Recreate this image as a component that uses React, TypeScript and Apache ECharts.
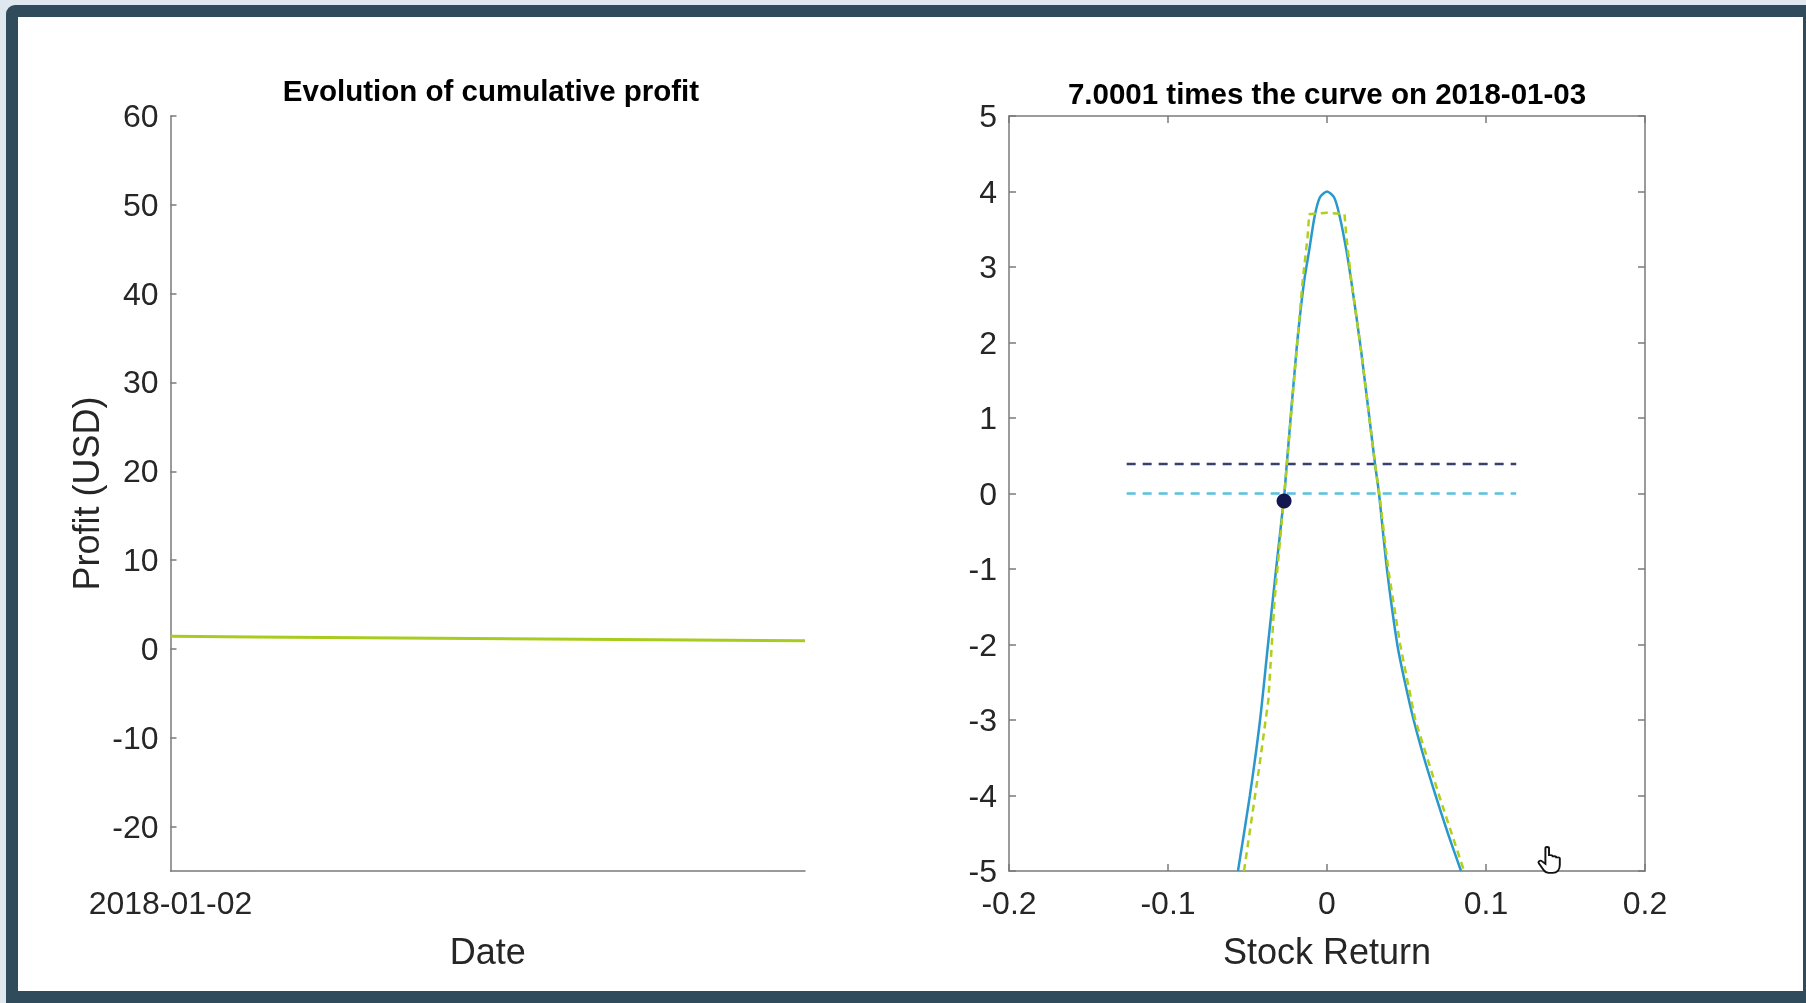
import React, { useEffect, useRef } from "react";
import * as echarts from "echarts";

// ---- data ----
const dates = ["2018-01-02", "2018-01-03"];
const profit = [1.42, 0.93];
const leftYTicks = [-20, -10, 0, 10, 20, 30, 40, 50, 60];

const curveX = [-0.056, -0.0485, -0.0421, -0.0371, -0.032, -0.0268, -0.0253, -0.0192, -0.0146, -0.0112, -0.0078, -0.0045, 0.0, 0.0045, 0.008, 0.0122, 0.0155, 0.0214, 0.0302, 0.0327, 0.0377, 0.0442, 0.049, 0.0545, 0.061, 0.0683, 0.076, 0.0843];
const curveY = [-5, -4, -3, -2, -1, 0, 0.39, 1.9, 2.78, 3.22, 3.67, 3.92, 4.0, 3.92, 3.67, 3.22, 2.78, 1.9, 0.39, 0, -1, -2, -2.5, -3, -3.5, -4, -4.5, -5];

const fitX = [-0.0522, -0.0426, -0.0369, -0.033, -0.0268, -0.0191, -0.0155, -0.0122, -0.0112, 0.0, 0.011, 0.0122, 0.0155, 0.0214, 0.0302, 0.0329, 0.0385, 0.046, 0.0555, 0.0705, 0.0862];
const fitY = [-5, -3.62, -2.74, -1.41, 0, 1.9, 2.78, 3.4, 3.7, 3.72, 3.7, 3.4, 2.78, 1.9, 0.39, 0, -1, -2, -3, -4, -5];

const levelX = [-0.126, 0.119];
const upperLevel = 0.39;
const zeroLevel = 0;
const markerX = -0.027;
const markerY = -0.1;

const handPath =
  "M7 2 C7 0.5 10 0.5 10 2 L10 9 C10 7.8 13 7.8 13 9 L13 10 C13 8.8 16 8.8 16 10 L16 11 C16 9.8 19 9.8 19 11 L19 17 C19 21 17 24 13 24 L10 24 C8 24 6.5 23 5.5 21.5 L1.5 15.5 C0.5 14 2.5 12.3 4 13.5 L7 16 Z";

const TICK_FONT = "'Liberation Sans', Arial, sans-serif";
const TXT = "#262626";
const AXIS = "#7a7a7a";

export default function App() {
  const ref = useRef<HTMLDivElement>(null);
  useEffect(() => {
    if (!ref.current) return;
    try {
      echarts.graphic.registerShape("handcursor", echarts.graphic.extendPath(handPath as any, {}) as any);
    } catch (e) {}
    const chart = echarts.init(ref.current, null, { renderer: "svg" });
    const axisLabel = { color: TXT, fontSize: 32, fontFamily: TICK_FONT };
    const nameStyle = { color: TXT, fontSize: 36, fontFamily: TICK_FONT };
    const lineStyle = { color: AXIS, width: 1.5 };
    const titleStyle = { fontSize: 29.5, fontWeight: "bold", fontFamily: TICK_FONT, fill: "#000", align: "center", verticalAlign: "middle" };
    const option: any = {
      animation: false,
      backgroundColor: "transparent",
      graphic: [
        { type: "rect", z: -10, silent: true, shape: { x: 0, y: 0, width: 1806, height: 1003 }, style: { fill: "#dfe7ef" } },
        { type: "rect", z: -9, silent: true, shape: { x: 6, y: 5, width: 1800, height: 998, r: [9, 0, 0, 0] }, style: { fill: "#2f4b5c" } },
        { type: "rect", z: -8, silent: true, shape: { x: 18, y: 17, width: 1785, height: 974 }, style: { fill: "#ffffff" } },
        { type: "text", z: 10, x: 491, y: 90, style: { ...titleStyle, text: "Evolution of cumulative profit" } },
        { type: "text", z: 10, x: 1327, y: 93, style: { ...titleStyle, text: "7.0001 times the curve on 2018-01-03" } },
        {
          type: "handcursor", z: 100, x: 1537, y: 846, scaleX: 1.2, scaleY: 1.12,
          style: { fill: "#ffffff", stroke: "#111", lineWidth: 1.6 },
        },
      ],
      grid: [
        { left: 170.5, top: 116, width: 634.5, height: 755 },
        { left: 1009, top: 116, width: 636, height: 755 },
      ],
      xAxis: [
        {
          type: "category", gridIndex: 0, data: dates, boundaryGap: false,
          axisLine: { onZero: false, lineStyle }, axisTick: { show: false },
          axisLabel: { ...axisLabel, margin: 16, interval: 0, formatter: (v: string, i: number) => (i === 0 ? v : "") },
          name: "Date", nameLocation: "middle", nameGap: 62, nameTextStyle: nameStyle,
          splitLine: { show: false },
        },
        {
          type: "value", gridIndex: 1, min: -0.2, max: 0.2, interval: 0.1, position: "bottom",
          axisLine: { onZero: false, lineStyle }, axisTick: { inside: true, length: 7, lineStyle },
          axisLabel: { ...axisLabel, margin: 16 },
          name: "Stock Return", nameLocation: "middle", nameGap: 62, nameTextStyle: nameStyle,
          splitLine: { show: false },
        },
        {
          type: "value", gridIndex: 1, min: -0.2, max: 0.2, interval: 0.1, position: "top",
          axisLine: { onZero: false, lineStyle }, axisTick: { inside: true, length: 7, lineStyle },
          axisLabel: { show: false }, splitLine: { show: false },
        },
      ],
      yAxis: [
        {
          type: "value", gridIndex: 0, min: -25, max: 60,
          axisLine: { show: true, onZero: false, lineStyle },
          axisTick: { show: true, inside: true, length: 6, lineStyle, customValues: leftYTicks },
          axisLabel: { ...axisLabel, margin: 12, customValues: leftYTicks },
          name: "Profit (USD)", nameLocation: "middle", nameGap: 66, nameRotate: 90, nameTextStyle: nameStyle,
          splitLine: { show: false },
        },
        {
          type: "value", gridIndex: 1, min: -5, max: 5, interval: 1, position: "left",
          axisLine: { show: true, onZero: false, lineStyle },
          axisTick: { show: true, inside: true, length: 7, lineStyle },
          axisLabel: { ...axisLabel, margin: 12 },
          splitLine: { show: false },
        },
        {
          type: "value", gridIndex: 1, min: -5, max: 5, interval: 1, position: "right",
          axisLine: { show: true, onZero: false, lineStyle },
          axisTick: { show: true, inside: true, length: 7, lineStyle },
          axisLabel: { show: false }, splitLine: { show: false },
        },
      ],
      series: [
        {
          type: "line", xAxisIndex: 0, yAxisIndex: 0, data: profit, showSymbol: false,
          lineStyle: { color: "#a9cb1f", width: 3 }, z: 3,
        },
        {
          type: "line", xAxisIndex: 1, yAxisIndex: 1, showSymbol: false,
          data: levelX.map((x) => [x, upperLevel]),
          lineStyle: { color: "#3b3f6e", width: 2.5, type: [9, 7] }, z: 2,
        },
        {
          type: "line", xAxisIndex: 1, yAxisIndex: 1, showSymbol: false,
          data: levelX.map((x) => [x, zeroLevel]),
          lineStyle: { color: "#5bbfe0", width: 2.5, type: [9, 7] }, z: 2,
        },
        {
          type: "line", xAxisIndex: 1, yAxisIndex: 1, showSymbol: false, smooth: 0.25,
          data: curveX.map((x, i) => [x, curveY[i]]),
          lineStyle: { color: "#2a98cc", width: 2.5 }, z: 3,
        },
        {
          type: "line", xAxisIndex: 1, yAxisIndex: 1, showSymbol: false,
          data: fitX.map((x, i) => [x, fitY[i]]),
          lineStyle: { color: "#b0d01c", width: 2.5, type: [7, 5] }, z: 4,
        },
        {
          type: "scatter", xAxisIndex: 1, yAxisIndex: 1,
          data: [[markerX, markerY]], symbolSize: 15,
          itemStyle: { color: "#141650", opacity: 1 }, z: 5,
        },
      ],
    };
    chart.setOption(option);
    return () => chart.dispose();
  }, []);
  return <div ref={ref} style={{ position: "fixed", left: 0, top: 0, width: 1806, height: 1003 }} />;
}
